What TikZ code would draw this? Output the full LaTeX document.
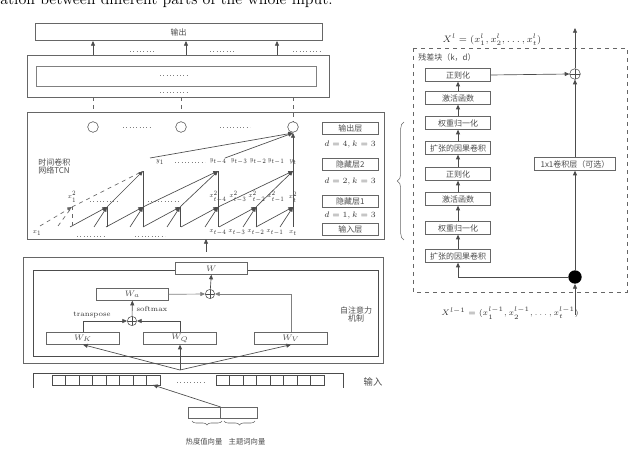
\documentclass[tikz,border=0pt]{standalone}
\usepackage{fontspec}
\newfontfamily\cjk{Noto Sans CJK SC}
\usetikzlibrary{arrows.meta,decorations.pathreplacing}
\begin{document}
\begin{tikzpicture}[x=0.75pt,y=-0.75pt,
  line/.style={draw=black!70,line width=0.5pt},
  arr/.style={line,-{Triangle[length=3.5pt,width=3pt]}},
  bx/.style={draw=black!60,line width=0.5pt,minimum height=9pt,inner sep=0pt,font=\cjk\fontsize{6}{6}\selectfont,text=black!70},
  lab/.style={font=\fontsize{6}{6}\selectfont,inner sep=0pt,text=black!80},
  sl/.style={font=\fontsize{5}{5}\selectfont,inner sep=0pt,text=black!80,xscale=0.8},
  clab/.style={font=\cjk\fontsize{6}{6}\selectfont,inner sep=0pt,text=black!70},
  dotl/.style={draw=black!50,dotted,line width=0.5pt},
  dsh/.style={draw=black!60,dashed,line width=0.5pt},
  plus/.style={circle,draw=black!70,inner sep=0pt,minimum size=7pt,path picture={\draw[black!70] (path picture bounding box.north)--(path picture bounding box.south) (path picture bounding box.west)--(path picture bounding box.east);}}]
\useasboundingbox (0,0) rectangle (640,470);
\begin{scope}
\clip (0,0) rectangle (640,470);
\node[anchor=base west,font=\fontsize{12}{12}\selectfont,inner sep=0pt] (top) at (0,5) {ation between different parts of the whole input.};
\end{scope}
% output
\node[bx,minimum width=215pt,minimum height=13pt,anchor=north west] (out) at (35,23) {输出};
\draw[draw=black!60] (27,55) rectangle (329,97);
\draw[draw=black!50] (36,66) rectangle (316,86);
\coordinate (o1) at (93,55); \coordinate (o2) at (186,55); \coordinate (o3) at (277,55);
\coordinate (t1) at (93,41); \coordinate (t2) at (186,41); \coordinate (t3) at (277,41);
\foreach \i in {1,2,3} \draw[arr] (o\i)--(t\i);
\draw[dotl] (130,51)--(155,51) (210,51)--(235,51) (293,51)--(320,51) (160,75)--(187,75) (160,92)--(187,92);
\coordinate (d1a) at (93,97); \coordinate (d1b) at (93,112);
\coordinate (d2a) at (181,97); \coordinate (d2b) at (181,112);
\coordinate (d3a) at (293,97); \coordinate (d3b) at (293,122);
\foreach \i in {1,2,3} \draw[dsh] (d\i a)--(d\i b);
% TCN
\draw[draw=black!60] (27,112) rectangle (384,239);
\node[circle,draw=black!70,minimum size=8pt,inner sep=0pt] (c1) at (93,127) {};
\node[circle,draw=black!70,minimum size=8pt,inner sep=0pt] (c2) at (181,127) {};
\node[circle,draw=black!70,minimum size=8pt,inner sep=0pt] (c3) at (293,127) {};
\draw[dotl] (123,127)--(152,127) (220,127)--(250,127);
\node[bx,minimum width=42pt,anchor=north west] (L1) at (322,122) {输出层};
\node[lab] (d4) at (350,145) {$d=4,k=3$};
\node[bx,minimum width=42pt,anchor=north west] (L2) at (322,158) {隐藏层2};
\node[lab] (d2) at (350,182) {$d=2,k=3$};
\node[bx,minimum width=42pt,anchor=north west] (L3) at (322,195) {隐藏层1};
\node[lab] (d1) at (350,216) {$d=1,k=3$};
\node[bx,minimum width=42pt,anchor=north west] (L4) at (322,223) {输入层};
\node[clab,align=left,anchor=west] (tcn) at (38,166) {时间卷积\\网络TCN};
% labels
\foreach \x/\t in {160/y_1,218/y_{t-4},239/y_{t-3},258/y_{t-2},276/y_{t-1},293/y_t}
  \node[sl] at (\x,162) {$\t$};
\draw[dotl] (175,162)--(205,162) (90,201)--(118,201) (148,201)--(180,201) (77,236)--(105,236) (135,236)--(165,236);
\foreach \x/\t in {72/x^2_1,218/x^2_{t-4},238/x^2_{t-3},257/x^2_{t-2},276/x^2_{t-1},293/x^2_t}
  \node[sl] at (\x,197) {$\t$};
\foreach \x/\t in {37/x_1,218/x_{t-4},237/x_{t-3},256/x_{t-2},275/x_{t-1},293/x_t}
  \node[sl] at (\x,233) {$\t$};
% hidden1 nodes
\foreach \n/\x in {a/72,b/107,c/143,d/180,e/218,f/256,g/293} \coordinate (h\n) at (\x,207);
\foreach \n/\x in {a/143,b/218,c/293} \coordinate (k\n) at (\x,171);
\coordinate (top3) at (293,133);
% input -> hidden1
\foreach \n/\x in {b/107,c/143,d/180,e/218,f/256,g/293}{
  \coordinate (bv\n) at (\x,227);
  \coordinate (bl\n) at (\x-13,227);
  \coordinate (bm\n) at (\x-37,227);
  \draw[line] (bv\n)--(h\n);
  \draw[arr] (bl\n)--(h\n);
  \draw[arr] (bm\n)--(h\n);}
\coordinate (ba1) at (40,226); \coordinate (ba2) at (58,226); \coordinate (ba3) at (72,226);
\draw[dsh,-{Triangle[length=3.5pt,width=3pt]}] (ba1)--(ha);
\draw[dsh] (ba2)--(ha);
\draw[dsh] (ba3)--(ha);
% hidden1 -> hidden2
\draw[dsh] (ha)--(ka);
\draw[arr] (hb)--(ka); \draw[line] (hc)--(ka);
\draw[arr] (hc)--(kb); \draw[arr] (hd)--(kb); \draw[line] (he)--(kb);
\draw[arr] (he)--(kc); \draw[arr] (hf)--(kc); \draw[line] (hg)--(kc);
% hidden2 -> out
\coordinate (yl1) at (150,158); \coordinate (yl2) at (225,158);
\draw[arr] (yl1)--(top3); \draw[arr] (yl2)--(top3); \draw[arr] (kc)--(top3);
% TCN input arrow
\coordinate (ain) at (206,252); \coordinate (aout) at (206,239);
\draw[arr] (ain)--(aout);
% attention
\draw[draw=black!60] (23,257) rectangle (383,363);
\draw[draw=black!70] (33,270) rectangle (378,356);
\node[bx,fill=white,minimum width=54pt,anchor=north west] (W) at (175,262) {$W$};
\node[bx,minimum width=54pt,anchor=north west] (Wa) at (96,288) {$W_a$};
\node[plus] (p1) at (210,294) {};
\node[plus] (p2) at (132,321) {};
\node[bx,minimum width=55pt,anchor=north west] (WK) at (46,332) {$W_K$};
\node[bx,minimum width=55pt,anchor=north west] (WQ) at (143,332) {$W_Q$};
\node[bx,minimum width=55pt,anchor=north west] (WV) at (254,332) {$W_V$};
\draw[arr,draw=black!50] (Wa.east)--(p1.west);
\draw[arr,draw=black!50] (WV.north)|-(p1.east);
\draw[arr] (p1)--(W.south);
\draw[arr] (WK.north)|-(p2.west);
\draw[arr] (WQ.north)|-(p2.east);
\draw[arr] (p2)--(Wa.south);
\node[lab,font=\fontsize{5.5}{5.5}\selectfont] (sm) at (152,309) {softmax};
\node[lab,font=\fontsize{5.5}{5.5}\selectfont] (tr) at (92,315) {transpose};
\coordinate (src) at (180,370);
\draw[arr] (src)--(WK.south); \draw[arr] (src)--(WQ.south); \draw[arr] (src)--(WV.south);
\node[clab,align=center] (zz) at (356,314) {自注意力\\机制};
% input strip
\draw[draw=black!70] (33,388)--(33,373)--(343,373)--(343,388);
\foreach \i in {0,...,7}{
  \draw[draw=black!70] (52+\i*13.5,375) rectangle (65.5+\i*13.5,385);
  \draw[draw=black!70] (216+\i*13.5,375) rectangle (229.5+\i*13.5,385);}
\draw[dotl] (177,382)--(205,382);
\node[clab,font=\cjk\fontsize{7}{7}\selectfont] (inp) at (373,382) {输入};
\node[bx,minimum width=24pt,minimum height=8pt,anchor=north west] (v1) at (188,407) {};
\node[bx,minimum width=28pt,minimum height=8pt,anchor=north west] (v2) at (220,407) {};
\coordinate (vin) at (153,385);
\draw[arr] (v1.north east)--(vin);
\draw[draw=black!60,decorate,decoration={brace,mirror,amplitude=3pt}] (192,421)--(222,421);
\draw[draw=black!60,decorate,decoration={brace,mirror,amplitude=3pt}] (224,421)--(255,421);
\node[clab,font=\cjk\fontsize{5.5}{5.5}\selectfont] (n1) at (204,442) {热度值向量};
\node[clab,font=\cjk\fontsize{5.5}{5.5}\selectfont] (n2) at (247,442) {主题词向量};
% right panel
\draw[draw=black!60,decorate,decoration={brace,amplitude=5pt}] (404,240)--(404,122);
\draw[dsh] (413,48) rectangle (627,292);
\node[lab,font=\fontsize{7}{7}\selectfont] (Xl) at (492,40) {$X^l=(x^l_1,x^l_2,\ldots,x^l_t)$};
\node[lab,font=\fontsize{6.5}{6.5}\selectfont] (Xl1) at (510,313) {$X^{l-1}=(x^{l-1}_1,x^{l-1}_2,\ldots,x^{l-1}_t)$};
\node[clab] (res) at (447,58) {残差块（k，d）};
\node[circle,fill=black,inner sep=0pt,minimum size=10pt] (dot) at (575,277) {};
\node[plus,minimum size=8pt] (p3) at (575,74) {};
\coordinate (bot) at (575,315); \coordinate (ttop) at (575,28);
\foreach \n/\y/\t in {r1/75/正则化,r2/98/激活函数,r3/123/权重归一化,r4/148/扩张的因果卷积,r5/174/正则化,r6/199/激活函数,r7/228/权重归一化,r8/256/扩张的因果卷积}
  \node[bx,minimum width=49pt,minimum height=9.5pt] (\n) at (458,\y) {\t};
\foreach \a/\b in {r8/r7,r7/r6,r6/r5,r5/r4,r4/r3,r3/r2,r2/r1} \draw[arr] (\a)--(\b);
\draw[arr] (dot.west)-|(r8.south);
\draw[arr] (r1.east)--(p3.west);
\node[bx,fill=white,minimum width=61pt,minimum height=9.5pt] (cv) at (575,164) {1x1卷积层（可选）};
\draw[arr] (bot)--(dot);
\draw[arr] (dot)--(cv);
\draw[arr] (cv)--(p3);
\draw[arr] (p3)--(ttop);
\end{tikzpicture}
\end{document}
